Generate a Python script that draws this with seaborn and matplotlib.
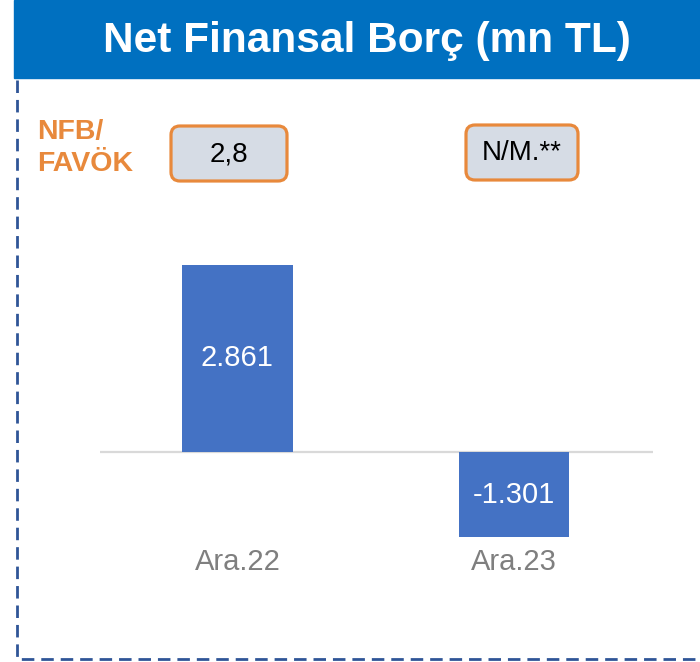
import matplotlib
matplotlib.use("Agg")
import matplotlib.pyplot as plt
import seaborn as sns
from matplotlib.patches import Rectangle, FancyBboxPatch
from matplotlib.lines import Line2D
from matplotlib.transforms import IdentityTransform

# ---- data ----
periods = ["Ara.22", "Ara.23"]
net_debt = [2861, -1301]
value_labels = ["2.861", "-1.301"]
ratio_labels = ["2,8", "N/M.**"]
title = "Net Finansal Borç (mn TL)"
ratio_title = "NFB/\nFAVÖK"

BLUE = "#4472C4"
HEADER = "#0070C0"
ORANGE = "#E8893C"
W, H = 700, 662

sns.set_theme(style="white")
plt.rcParams["font.family"] = ["Liberation Sans", "DejaVu Sans"]

fig = plt.figure(figsize=(W / 100, H / 100), dpi=100)
fig.patch.set_facecolor("white")


def fx(x):
    return x / W


def fy(y):
    return (H - y) / H


# main bar axes (pixel box 100..653 x 250..540)
ax = fig.add_axes([fx(100), fy(540), fx(653) - fx(100), fy(250) - fy(540)])
sns.barplot(x=periods, y=net_debt, color=BLUE, saturation=1, width=0.4,
            linewidth=0, ax=ax)
ax.set_xlim(-0.497, 1.503)
ax.set_ylim(-1346, 3089)
ax.axhline(0, color="#D9D9D9", lw=1.6, zorder=0)
for s in ax.spines.values():
    s.set_visible(False)
ax.set_yticks([])
ax.set_ylabel("")
ax.tick_params(axis="x", length=0, pad=6, labelsize=21, labelcolor="#7F7F7F")
ax.set_facecolor("none")

for bar, lab in zip(ax.patches, value_labels):
    cx = bar.get_x() + bar.get_width() / 2
    cy = bar.get_y() + bar.get_height() / 2
    ax.text(cx, cy, lab, color="white", fontsize=21, ha="center", va="center")

# header bar
fig.patches.append(Rectangle((fx(14), fy(78)), 1 - fx(14), fy(0) - fy(78),
                             transform=fig.transFigure, color=HEADER, zorder=0))
fig.text(fx(367), fy(41), title, color="white", fontsize=30.5,
         fontweight="bold", ha="center", va="center")

# dashed frame
fig.lines.append(Line2D([fx(17), fx(17), fx(700)], [fy(80), fy(659), fy(659)],
                        transform=fig.transFigure, color="#2F5597", lw=2,
                        dashes=(4.5, 2.5)))

# NFB/FAVOK boxes
fig.text(fx(37), fy(148), ratio_title, color=ORANGE, fontsize=20.5,
         fontweight="bold", ha="left", va="center", linespacing=1.3)
boxes = [(171, 126, 116, 55), (466, 125, 112, 55)]
for (bx, by, bw, bh), lab in zip(boxes, ratio_labels):
    p = FancyBboxPatch((bx, H - by - bh), bw, bh,
                       boxstyle="round,pad=0,rounding_size=9",
                       transform=IdentityTransform(), fc="#D6DCE5",
                       ec=ORANGE, lw=2.3)
    fig.patches.append(p)
    fig.text(fx(bx + bw / 2), fy(by + bh / 2 + 1), lab, color="black",
             fontsize=20, ha="center", va="center")

fig.savefig("out.png", dpi=100)
